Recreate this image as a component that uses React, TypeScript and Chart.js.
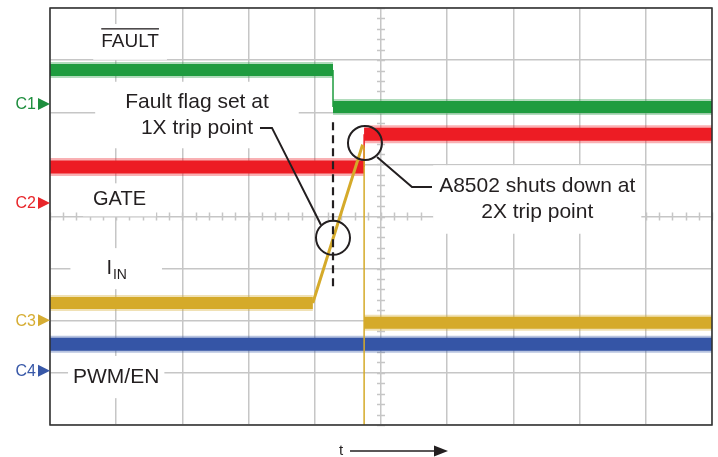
import React, { useEffect, useRef } from "react";
import { Chart, registerables } from "chart.js";

Chart.register(...registerables);

// ---------- Scope screen: 10 horizontal x 8 vertical divisions ----------
const X_RANGE = [0, 10];
const Y_RANGE = [0, 8];

// ---------- Traces (x = time in divisions, y = divisions from bottom) ----------
const faultX = [0, 4.275, 4.275, 10];
const faultY = [6.81, 6.81, 6.1, 6.1];

const gateX = [0, 4.745, 4.745, 10];
const gateY = [4.95, 4.95, 5.58, 5.58];

const iinX = [0, 3.97, 4.715, 4.745, 4.745, 4.745, 10];
const iinY = [2.34, 2.34, 5.35, 5.33, 0, 1.96, 1.96];

const pwmX = [0, 10];
const pwmY = [1.55, 1.55];

// ---------- Annotation marks ----------
const tripCircleX = [4.275, 4.758];
const tripCircleY = [3.59, 5.41];

const trigDashX = [4.275, 4.275];
const trigDashY = [5.81, 2.61];

const leader1X = [3.172, 3.353, 4.094];
const leader1Y = [5.7, 5.7, 3.837];

const leader2X = [4.94, 5.468, 5.77];
const leader2Y = [5.14, 4.566, 4.566];

// ---------- Text ----------
const channelNames = ["C1", "C2", "C3", "C4"];
const channelLevels = [6.16, 4.26, 2.01, 1.04];

const COLORS = {
  green: "#1f9c3f",
  red: "#ed1c24",
  yellow: "#d5aa2a",
  blue: "#3555a6",
  grid: "#c6c6c6",
  border: "#2e2e2e",
};
const HALO = {
  green: "rgba(31,156,63,0.35)",
  red: "rgba(237,28,36,0.35)",
  yellow: "rgba(213,170,42,0.35)",
  blue: "rgba(53,85,166,0.35)",
};
const channelColors = ["#1e8e3e", "#e8262b", "#d6ad33", "#3858a8"];

const FONT = '"Liberation Sans", Arial, Helvetica, sans-serif';

type Label = {
  lines: string[];
  x: number;
  y: number;
  size: number;
  padX: number;
  padY: number;
  sub?: string;
  overline?: boolean;
};

const labels: Label[] = [
  { lines: ["FAULT"], x: 1.21, y: 7.35, size: 19, padX: 8, padY: 6, overline: true },
  { lines: ["GATE"], x: 1.05, y: 4.32, size: 20, padX: 10, padY: 4 },
  { lines: ["I"], sub: "IN", x: 1.0, y: 3.0, size: 20, padX: 36, padY: 8 },
  { lines: ["PWM/EN"], x: 1.0, y: 0.92, size: 21, padX: 5, padY: 8 },
  { lines: ["Fault flag set at", "1X trip point"], x: 2.22, y: 5.947, size: 21, padX: 30, padY: 7 },
  { lines: ["A8502 shuts down at", "2X trip point"], x: 7.36, y: 4.326, size: 21, padX: 6, padY: 8 },
];

const timeLabel = "t";
const timeArrowX = [4.396, 4.532, 6.012];

const toPts = (xs: number[], ys: number[]) => xs.map((x, i) => ({ x, y: ys[i] }));

const flat = (ctx: any) => ctx.p1.parsed.y === ctx.p0.parsed.y;

const traceDataset = (label: string, xs: number[], ys: number[], color: string, band: number, slope: number) => ({
  label,
  data: toPts(xs, ys),
  borderColor: color,
  backgroundColor: color,
  borderWidth: band,
  pointRadius: 0,
  tension: 0,
  fill: false,
  order: 1,
  segment: {
    borderWidth: (ctx: any) => {
      if (flat(ctx)) return band;
      if (ctx.p1.parsed.x === ctx.p0.parsed.x) return 1.5;
      return slope;
    },
  },
});

// lighter, wider band behind each flat trace to suggest the noise envelope
const haloDataset = (label: string, xs: number[], ys: number[], color: string, band: number) => ({
  label: label + " noise",
  data: toPts(xs, ys),
  borderColor: color,
  borderWidth: band,
  pointRadius: 0,
  tension: 0,
  fill: false,
  order: 2,
  segment: {
    borderColor: (ctx: any) => (flat(ctx) ? color : "rgba(0,0,0,0)"),
  },
});

const scopePlugin = {
  id: "scopeDecor",
  beforeDatasetsDraw(chart: any) {
    const { ctx, scales } = chart;
    const xs = scales.x;
    const ys = scales.y;
    ctx.save();
    // minor ticks along the centre graticule lines
    ctx.strokeStyle = COLORS.grid;
    ctx.lineWidth = 1.5;
    ctx.beginPath();
    const cy = ys.getPixelForValue((Y_RANGE[0] + Y_RANGE[1]) / 2);
    const cx = xs.getPixelForValue((X_RANGE[0] + X_RANGE[1]) / 2);
    for (let i = 0; i <= (X_RANGE[1] - X_RANGE[0]) * 5; i++) {
      const px = Math.round(xs.getPixelForValue(X_RANGE[0] + i / 5)) + 0.5;
      ctx.moveTo(px, cy - 4);
      ctx.lineTo(px, cy + 4);
    }
    for (let j = 0; j <= (Y_RANGE[1] - Y_RANGE[0]) * 5; j++) {
      const py = Math.round(ys.getPixelForValue(Y_RANGE[0] + j / 5)) + 0.5;
      ctx.moveTo(cx - 4, py);
      ctx.lineTo(cx + 4, py);
    }
    ctx.stroke();

    // text labels with white boxes
    for (const lb of labels) {
      const px = xs.getPixelForValue(lb.x);
      const py = ys.getPixelForValue(lb.y);
      const lineH = lb.size * 1.25;
      ctx.font = `${lb.size}px ${FONT}`;
      let w = Math.max(...lb.lines.map((l) => ctx.measureText(l).width));
      if (lb.sub) {
        ctx.font = `${Math.round(lb.size * 0.72)}px ${FONT}`;
        w += ctx.measureText(lb.sub).width;
      }
      const h = lineH * lb.lines.length;
      ctx.fillStyle = "#ffffff";
      ctx.fillRect(px - w / 2 - lb.padX, py - h / 2 - lb.padY, w + 2 * lb.padX, h + 2 * lb.padY);
      ctx.fillStyle = "#231f20";
      ctx.textBaseline = "middle";
      if (lb.sub) {
        ctx.font = `${lb.size}px ${FONT}`;
        ctx.textAlign = "left";
        const left = px - w / 2;
        ctx.fillText(lb.lines[0], left, py);
        const mw = ctx.measureText(lb.lines[0]).width;
        ctx.font = `${Math.round(lb.size * 0.72)}px ${FONT}`;
        ctx.fillText(lb.sub, left + mw + 1, py + lb.size * 0.32);
      } else {
        ctx.font = `${lb.size}px ${FONT}`;
        ctx.textAlign = "center";
        lb.lines.forEach((l, k) => {
          const ly = py - h / 2 + lineH * (k + 0.5);
          ctx.fillText(l, px, ly);
          if (lb.overline) {
            const tw = ctx.measureText(l).width;
            ctx.fillRect(px - tw / 2, ly - lb.size * 0.72, tw, 1.3);
          }
        });
      }
    }
    ctx.restore();
  },
  afterDatasetsDraw(chart: any) {
    const { ctx, chartArea, scales } = chart;
    const ys = scales.y;
    const xs = scales.x;
    ctx.save();
    // screen frame
    ctx.strokeStyle = COLORS.border;
    ctx.lineWidth = 1.5;
    ctx.strokeRect(chartArea.left, chartArea.top, chartArea.right - chartArea.left, chartArea.bottom - chartArea.top);

    // channel reference markers
    ctx.font = `16px ${FONT}`;
    ctx.textBaseline = "middle";
    ctx.textAlign = "right";
    channelNames.forEach((name, i) => {
      const py = ys.getPixelForValue(channelLevels[i]);
      ctx.fillStyle = channelColors[i];
      ctx.fillText(name, chartArea.left - 14, py + 1);
      ctx.beginPath();
      ctx.moveTo(chartArea.left - 12, py - 6);
      ctx.lineTo(chartArea.left, py);
      ctx.lineTo(chartArea.left - 12, py + 6);
      ctx.closePath();
      ctx.fill();
    });

    // time arrow
    const ty = chartArea.bottom + 26;
    ctx.fillStyle = "#231f20";
    ctx.strokeStyle = "#231f20";
    ctx.font = `15px ${FONT}`;
    ctx.textAlign = "center";
    ctx.fillText(timeLabel, xs.getPixelForValue(timeArrowX[0]), ty);
    const a0 = xs.getPixelForValue(timeArrowX[1]);
    const a1 = xs.getPixelForValue(timeArrowX[2]);
    ctx.lineWidth = 1.5;
    ctx.beginPath();
    ctx.moveTo(a0, ty);
    ctx.lineTo(a1 - 12, ty);
    ctx.stroke();
    ctx.beginPath();
    ctx.moveTo(a1, ty);
    ctx.lineTo(a1 - 14, ty - 5.5);
    ctx.lineTo(a1 - 14, ty + 5.5);
    ctx.closePath();
    ctx.fill();
    ctx.restore();
  },
};

export default function App() {
  const ref = useRef<HTMLCanvasElement>(null);
  useEffect(() => {
    if (!ref.current) return;
    const chart = new Chart(ref.current, {
      type: "line",
      data: {
        datasets: [
          {
            label: "trip circles",
            data: toPts(tripCircleX, tripCircleY),
            showLine: false,
            pointRadius: 17,
            pointStyle: "circle",
            pointBorderWidth: 2,
            borderColor: "#231f20",
            backgroundColor: "rgba(0,0,0,0)",
            pointBackgroundColor: "rgba(0,0,0,0)",
            order: 0,
          } as any,
          {
            label: "trigger dash",
            data: toPts(trigDashX, trigDashY),
            borderColor: "#231f20",
            borderWidth: 2.2,
            borderDash: [8, 5],
            pointRadius: 0,
            order: 0,
          },
          {
            label: "leader 1",
            data: toPts(leader1X, leader1Y),
            borderColor: "#231f20",
            borderWidth: 2,
            pointRadius: 0,
            tension: 0,
            order: 0,
          },
          {
            label: "leader 2",
            data: toPts(leader2X, leader2Y),
            borderColor: "#231f20",
            borderWidth: 2,
            pointRadius: 0,
            tension: 0,
            order: 0,
          },
          traceDataset("I_IN", iinX, iinY, COLORS.yellow, 12, 3),
          traceDataset("GATE", gateX, gateY, COLORS.red, 13, 2),
          traceDataset("FAULT", faultX, faultY, COLORS.green, 12, 1.5),
          traceDataset("PWM/EN", pwmX, pwmY, COLORS.blue, 13, 2),
          haloDataset("I_IN", iinX, iinY, HALO.yellow, 16),
          haloDataset("GATE", gateX, gateY, HALO.red, 18),
          haloDataset("FAULT", faultX, faultY, HALO.green, 16),
          haloDataset("PWM/EN", pwmX, pwmY, HALO.blue, 17),
        ],
      },
      options: {
        animation: false,
        responsive: false,
        maintainAspectRatio: false,
        layout: { autoPadding: false, padding: { left: 50, top: 8, right: 6, bottom: 32 } },
        plugins: { legend: { display: false }, tooltip: { enabled: false } },
        scales: {
          x: {
            type: "linear",
            min: X_RANGE[0],
            max: X_RANGE[1],
            ticks: { display: false, stepSize: 1 },
            grid: { color: COLORS.grid, lineWidth: 1.5, drawTicks: false },
            border: { display: false },
            afterFit: (s: any) => {
              s.height = 0;
            },
          },
          y: {
            type: "linear",
            min: Y_RANGE[0],
            max: Y_RANGE[1],
            ticks: { display: false, stepSize: 1 },
            grid: { color: COLORS.grid, lineWidth: 1.5, drawTicks: false },
            border: { display: false },
            afterFit: (s: any) => {
              s.width = 0;
            },
          },
        },
      },
      plugins: [scopePlugin],
    });
    return () => chart.destroy();
  }, []);
  return (
    <div style={{ position: "fixed", left: 0, top: 0, width: 718, height: 457, background: "#ffffff" }}>
      <canvas ref={ref} width={718} height={457} style={{ display: "block" }} />
    </div>
  );
}
